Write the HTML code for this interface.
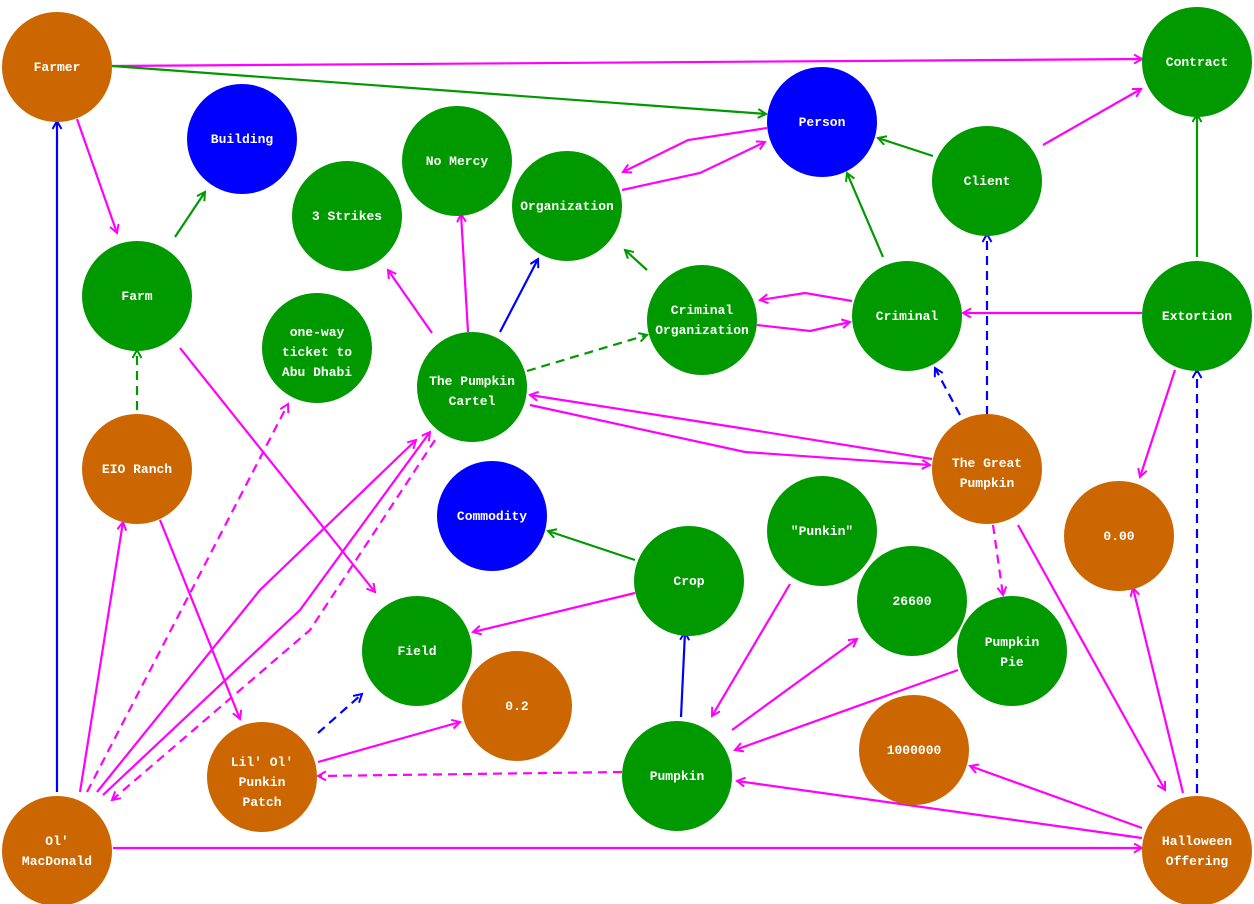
<!DOCTYPE html>
<html><head><meta charset="utf-8"><style>
html,body{margin:0;padding:0;background:#fff;}
svg{display:block;}
text{font-family:"Liberation Mono",monospace;font-weight:bold;font-size:13px;fill:#fff;text-anchor:middle;}
</style></head><body>
<svg width="1254" height="904" viewBox="0 0 1254 904" xmlns="http://www.w3.org/2000/svg">
<defs>
<marker id="am" markerWidth="12" markerHeight="12" refX="9" refY="5" orient="auto" markerUnits="userSpaceOnUse"><path d="M1,0.5 L9,5 L1,9.5" fill="none" stroke="#ff00ff" stroke-width="2"/></marker>
<marker id="ag" markerWidth="12" markerHeight="12" refX="9" refY="5" orient="auto" markerUnits="userSpaceOnUse"><path d="M1,0.5 L9,5 L1,9.5" fill="none" stroke="#009900" stroke-width="2"/></marker>
<marker id="ab" markerWidth="12" markerHeight="12" refX="9" refY="5" orient="auto" markerUnits="userSpaceOnUse"><path d="M1,0.5 L9,5 L1,9.5" fill="none" stroke="#0000ff" stroke-width="2"/></marker>
</defs>
<g fill="none" stroke-width="2.2">
<g stroke="#ff00ff" marker-end="url(#am)">
<path d="M112,66 L1142,59"/>
<path d="M77,119 L117,233"/>
<path d="M767,128 L688,140 L623,172"/>
<path d="M622,190 L700,173 L765,142"/>
<path d="M1043,145 L1141,89"/>
<path d="M852,301 L805,293 L760,300"/>
<path d="M757,325 L810,331 L850,322"/>
<path d="M1142,313 L963,313"/>
<path d="M432,333 L388,270"/>
<path d="M468,332 L461,214"/>
<path d="M932,459 L740,428 L530,395"/>
<path d="M530,405 L745,452 L930,465"/>
<path d="M180,348 L375,592"/>
<path d="M160,520 L240,719"/>
<path d="M80,792 L123,522"/>
<path d="M97,792 L260,590 L416,440"/>
<path d="M103,795 L300,610 L430,432"/>
<path d="M113,848 L1142,848"/>
<path d="M1175,370 L1140,477"/>
<path d="M1183,793 L1133,588"/>
<path d="M1018,525 L1165,790"/>
<path d="M635,593 L473,632"/>
<path d="M790,584 L712,716"/>
<path d="M732,730 L857,639"/>
<path d="M958,670 L735,750"/>
<path d="M1142,828 L970,766"/>
<path d="M1142,838 L737,781"/>
<path d="M318,762 L460,722"/>
</g>
<g stroke="#ff00ff" stroke-dasharray="9,6" marker-end="url(#am)">
<path d="M87,792 L288,404"/>
<path d="M435,440 L310,630 L112,800"/>
<path d="M993,525 L1003,595"/>
<path d="M622,772 L318,776"/>
</g>
<g stroke="#009900" marker-end="url(#ag)">
<path d="M112,66 L766,114"/>
<path d="M175,237 L205,192"/>
<path d="M933,156 L878,138"/>
<path d="M1197,257 L1197,114"/>
<path d="M883,257 L847,173"/>
<path d="M647,270 L625,250"/>
<path d="M635,560 L548,531"/>
</g>
<g stroke="#009900" stroke-dasharray="9,6" marker-end="url(#ag)">
<path d="M527,371 L647,335"/>
<path d="M137,410 L137,350"/>
</g>
<g stroke="#0000ff" marker-end="url(#ab)">
<path d="M57,792 L57,121"/>
<path d="M500,332 L538,259"/>
<path d="M681,717 L685,632"/>
</g>
<g stroke="#0000ff" stroke-dasharray="9,6" marker-end="url(#ab)">
<path d="M987,415 L987,234"/>
<path d="M960,415 L935,368"/>
<path d="M1197,793 L1197,370"/>
<path d="M318,733 L362,694"/>
</g>
</g>
<g>
<circle cx="57" cy="67" r="55" fill="#cc6600"/><text x="57" y="71">Farmer</text>
<circle cx="1197" cy="62" r="55" fill="#009900"/><text x="1197" y="66">Contract</text>
<circle cx="242" cy="139" r="55" fill="#0000ff"/><text x="242" y="143">Building</text>
<circle cx="822" cy="122" r="55" fill="#0000ff"/><text x="822" y="126">Person</text>
<circle cx="457" cy="161" r="55" fill="#009900"/><text x="457" y="165">No Mercy</text>
<circle cx="347" cy="216" r="55" fill="#009900"/><text x="347" y="220">3 Strikes</text>
<circle cx="567" cy="206" r="55" fill="#009900"/><text x="567" y="210">Organization</text>
<circle cx="987" cy="181" r="55" fill="#009900"/><text x="987" y="185">Client</text>
<circle cx="137" cy="296" r="55" fill="#009900"/><text x="137" y="300">Farm</text>
<circle cx="317" cy="348" r="55" fill="#009900"/><text x="317" y="336">one-way</text><text x="317" y="356">ticket to</text><text x="317" y="376">Abu Dhabi</text>
<circle cx="472" cy="387" r="55" fill="#009900"/><text x="472" y="385">The Pumpkin</text><text x="472" y="405">Cartel</text>
<circle cx="702" cy="320" r="55" fill="#009900"/><text x="702" y="314">Criminal</text><text x="702" y="334">Organization</text>
<circle cx="907" cy="316" r="55" fill="#009900"/><text x="907" y="320">Criminal</text>
<circle cx="1197" cy="316" r="55" fill="#009900"/><text x="1197" y="320">Extortion</text>
<circle cx="137" cy="469" r="55" fill="#cc6600"/><text x="137" y="473">EIO Ranch</text>
<circle cx="987" cy="469" r="55" fill="#cc6600"/><text x="987" y="467">The Great</text><text x="987" y="487">Pumpkin</text>
<circle cx="492" cy="516" r="55" fill="#0000ff"/><text x="492" y="520">Commodity</text>
<circle cx="689" cy="581" r="55" fill="#009900"/><text x="689" y="585">Crop</text>
<circle cx="822" cy="531" r="55" fill="#009900"/><text x="822" y="535">"Punkin"</text>
<circle cx="1119" cy="536" r="55" fill="#cc6600"/><text x="1119" y="540">0.00</text>
<circle cx="912" cy="601" r="55" fill="#009900"/><text x="912" y="605">26600</text>
<circle cx="1012" cy="651" r="55" fill="#009900"/><text x="1012" y="646">Pumpkin</text><text x="1012" y="666">Pie</text>
<circle cx="417" cy="651" r="55" fill="#009900"/><text x="417" y="655">Field</text>
<circle cx="517" cy="706" r="55" fill="#cc6600"/><text x="517" y="710">0.2</text>
<circle cx="914" cy="750" r="55" fill="#cc6600"/><text x="914" y="754">1000000</text>
<circle cx="262" cy="777" r="55" fill="#cc6600"/><text x="262" y="766">Lil' Ol'</text><text x="262" y="786">Punkin</text><text x="262" y="806">Patch</text>
<circle cx="677" cy="776" r="55" fill="#009900"/><text x="677" y="780">Pumpkin</text>
<circle cx="57" cy="851" r="55" fill="#cc6600"/><text x="57" y="845">Ol'</text><text x="57" y="865">MacDonald</text>
<circle cx="1197" cy="851" r="55" fill="#cc6600"/><text x="1197" y="845">Halloween</text><text x="1197" y="865">Offering</text>
</g>
</svg>
</body></html>
